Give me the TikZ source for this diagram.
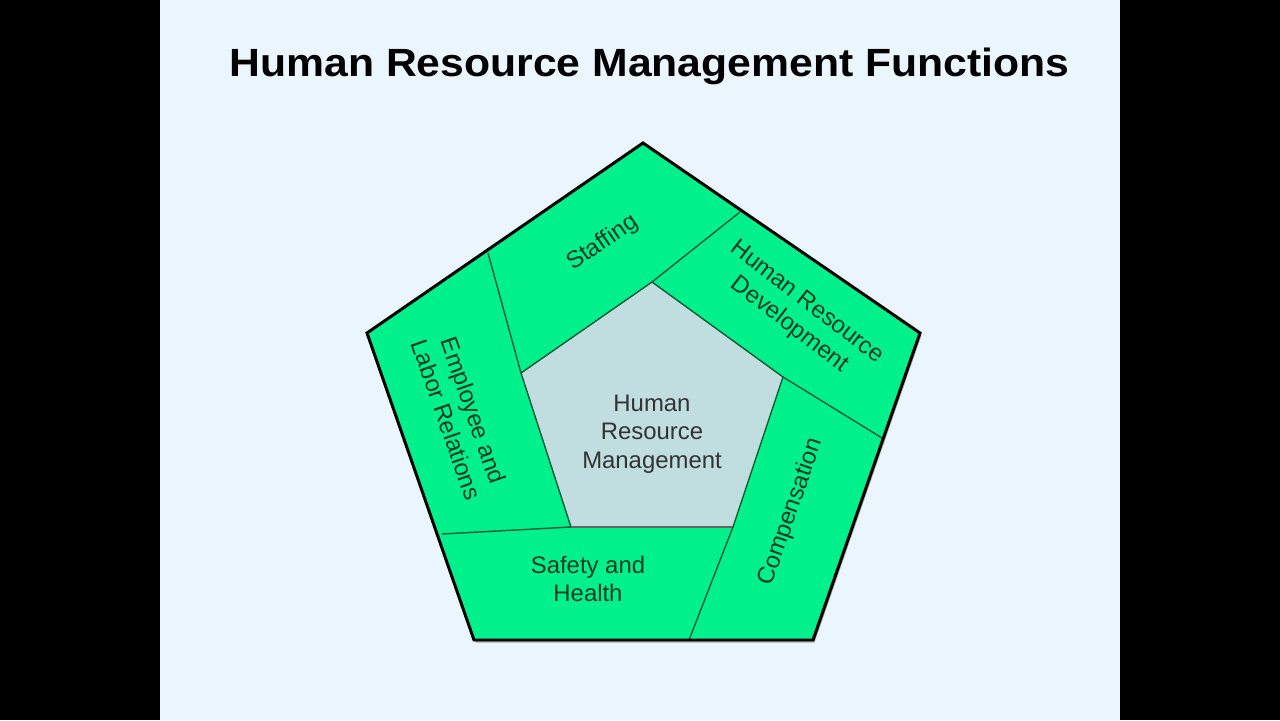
\documentclass[tikz,border=0pt]{standalone}
\usepackage{fontspec}
\setmainfont{Liberation Sans}
\usetikzlibrary{positioning}
\definecolor{slateblue}{HTML}{EBF5FD}
\definecolor{ringgreen}{HTML}{00F08C}
\definecolor{coregrey}{HTML}{C0DDE0}
\definecolor{linegreen}{HTML}{0D5A34}
\definecolor{labelgreen}{HTML}{0B3D22}
\tikzset{
    outline/.style={draw=black, line width=1.7pt, line join=miter},
    divider/.style={draw=linegreen, line width=0.8pt},
    label/.style={align=center, text=labelgreen, font=\fontsize{13.6}{16.2}\selectfont, inner sep=0pt},
    corelabel/.style={label, text=black!80},
    titlelabel/.style={font=\fontsize{22.4}{26}\selectfont\bfseries, text=black, inner sep=0pt, xscale=1.085}
}

\begin{document}
\begin{tikzpicture}
        \useasboundingbox (0,0) rectangle (25.6,14.4);
        \fill[black] (0,0) rectangle (25.6,14.4);
        \fill[slateblue] (3.2,0) rectangle (22.4,14.4);
        % outer corners
        \coordinate (T) at (12.86,11.54);
        \coordinate (R) at (18.40,7.74);
        \coordinate (BR) at (16.26,1.60);
        \coordinate (BL) at (9.48,1.60);
        \coordinate (L) at (7.34,7.74);
        % inner corners
        \coordinate (t) at (13.04,8.76);
        \coordinate (r) at (15.66,6.86);
        \coordinate (br) at (14.66,3.86);
        \coordinate (bl) at (11.42,3.86);
        \coordinate (l) at (10.42,6.94);
        % outer ends of the dividers
        \coordinate (a) at (9.76,9.34);
        \coordinate (b) at (14.80,10.16);
        \coordinate (c) at (17.64,5.64);
        \coordinate (d) at (13.78,1.60);
        \coordinate (e) at (8.84,3.72);
        \fill[black!35] ([shift={(0.03,-0.05)}]T) -- ([shift={(0.03,-0.05)}]R) -- ([shift={(0.03,-0.05)}]BR) -- ([shift={(0.03,-0.05)}]BL) -- ([shift={(0.03,-0.05)}]L) -- cycle;
        \fill[ringgreen] (T) -- (R) -- (BR) -- (BL) -- (L) -- cycle;
        \fill[coregrey] (t) -- (r) -- (br) -- (bl) -- (l) -- cycle;
        \draw[divider] (t) -- (r) -- (br) -- (bl) -- (l) -- cycle;
        \draw[black!60, line width=1.2pt] (bl) -- (br);
        \draw[divider] (a) -- (l);
        \draw[divider] (b) -- (t);
        \draw[divider] (c) -- (r);
        \draw[divider] (d) -- (br);
        \draw[divider] (e) -- (bl);
        \draw[outline] (T) -- (R) -- (BR) -- (BL) -- (L) -- cycle;
        \node[titlelabel, anchor=base] (title) at (12.99,12.86) {Human Resource Management Functions};
        \node[corelabel] (hrm) at (13.04,5.72) {Human\\Resource\\Management};
        \node[label, rotate=34.5] (staffing) at (12.06,9.54) {Staffing};
        \node[label, rotate=-37.5] (hrd) at (15.96,8.12) {Human Resource\\Development};
        \node[label, rotate=70.8] (comp) at (15.82,4.16) {Compensation};
        \node[label] (safety) at (11.76,2.82) {Safety and\\Health};
        \node[label, rotate=-70.8] (labor) at (9.20,6.10) {Employee and\\Labor Relations};
    \end{tikzpicture}
\end{document}
